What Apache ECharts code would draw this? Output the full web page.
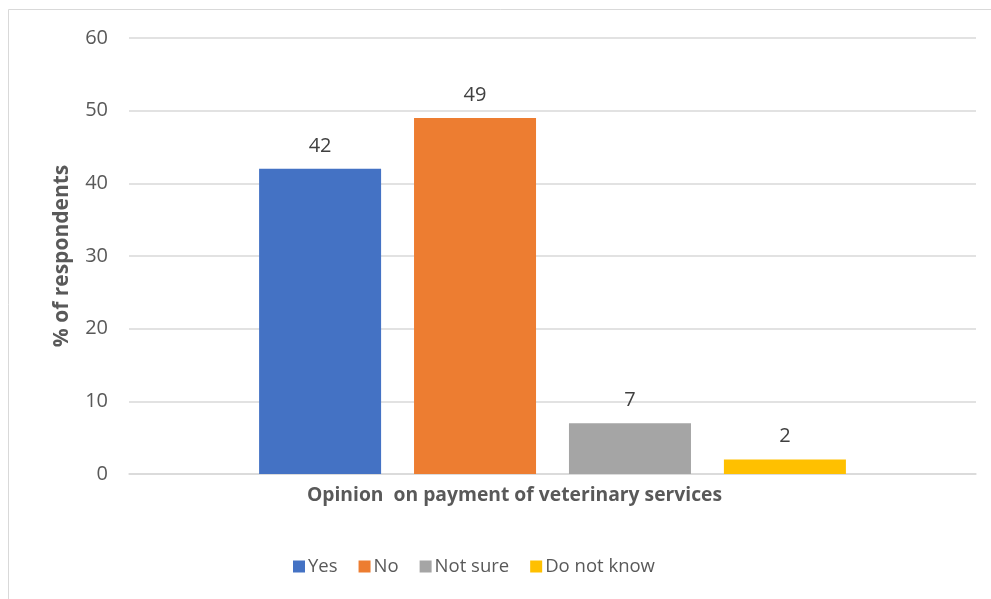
<!DOCTYPE html>
<html>
<head>
<meta charset="utf-8">
<script src="https://cdn.jsdelivr.net/npm/echarts@6/dist/echarts.min.js"></script>
<style>
  html, body { margin: 0; padding: 0; background: #fff; }
  #chart { width: 991px; height: 599px; }
</style>
</head>
<body>
<div id="chart"></div>
<script>
// Survey responses: opinion on paying for veterinary services
const categories = ['Opinion  on payment of veterinary services'];
const seriesNames = ['Yes', 'No', 'Not sure', 'Do not know'];
const seriesValues = [42, 49, 7, 2];
const seriesColors = ['#4472C4', '#ED7D31', '#A5A5A5', '#FFC000'];
const yTicks = [0, 10, 20, 30, 40, 50, 60];

const font = '"Open Sans", "Noto Sans", sans-serif';

const chart = echarts.init(document.getElementById('chart'), null, { renderer: 'canvas' });

chart.setOption({
  animation: false,
  backgroundColor: '#ffffff',
  graphic: [{
    type: 'rect',
    shape: { x: 8.5, y: 9.5, width: 1200, height: 1200 },
    style: { fill: 'none', stroke: '#D9D9D9', lineWidth: 1 },
    silent: true
  }],
  grid: { left: 129, right: 15, top: 38, bottom: 125 },
  legend: {
    data: seriesNames,
    bottom: 18,
    left: 288,
    itemWidth: 12,
    itemHeight: 12,
    itemGap: 21,
    icon: 'rect',
    textStyle: { fontFamily: font, fontSize: 18.5, color: '#595959', padding: [0, 0, 0, -2] }
  },
  xAxis: {
    type: 'category',
    data: categories,
    axisTick: { show: false },
    axisLine: { lineStyle: { color: '#D9D9D9', width: 1.5 } },
    axisLabel: {
      fontFamily: font, fontSize: 19.3, fontWeight: 'bold', color: '#595959', margin: 12,
      padding: [0, 76, 0, 0]
    }
  },
  yAxis: {
    type: 'value',
    min: yTicks[0],
    max: yTicks[yTicks.length - 1],
    interval: 10,
    name: '% of respondents',
    nameLocation: 'middle',
    nameGap: 56,
    nameTextStyle: { fontFamily: font, fontSize: 21, fontWeight: 'bold', color: '#595959' },
    axisLine: { show: false },
    axisTick: { show: false },
    splitLine: { lineStyle: { color: '#D9D9D9', width: 1.5 } },
    axisLabel: { fontFamily: font, fontSize: 20, color: '#595959', margin: 21 }
  },
  series: seriesNames.map((name, i) => ({
    name,
    type: 'bar',
    data: [seriesValues[i]],
    barWidth: 122,
    barGap: '27%',
    itemStyle: { color: seriesColors[i] },
    label: {
      show: true,
      position: 'top',
      distance: 13,
      fontFamily: font,
      fontSize: 20,
      color: '#404040'
    }
  }))
});
</script>
</body>
</html>
